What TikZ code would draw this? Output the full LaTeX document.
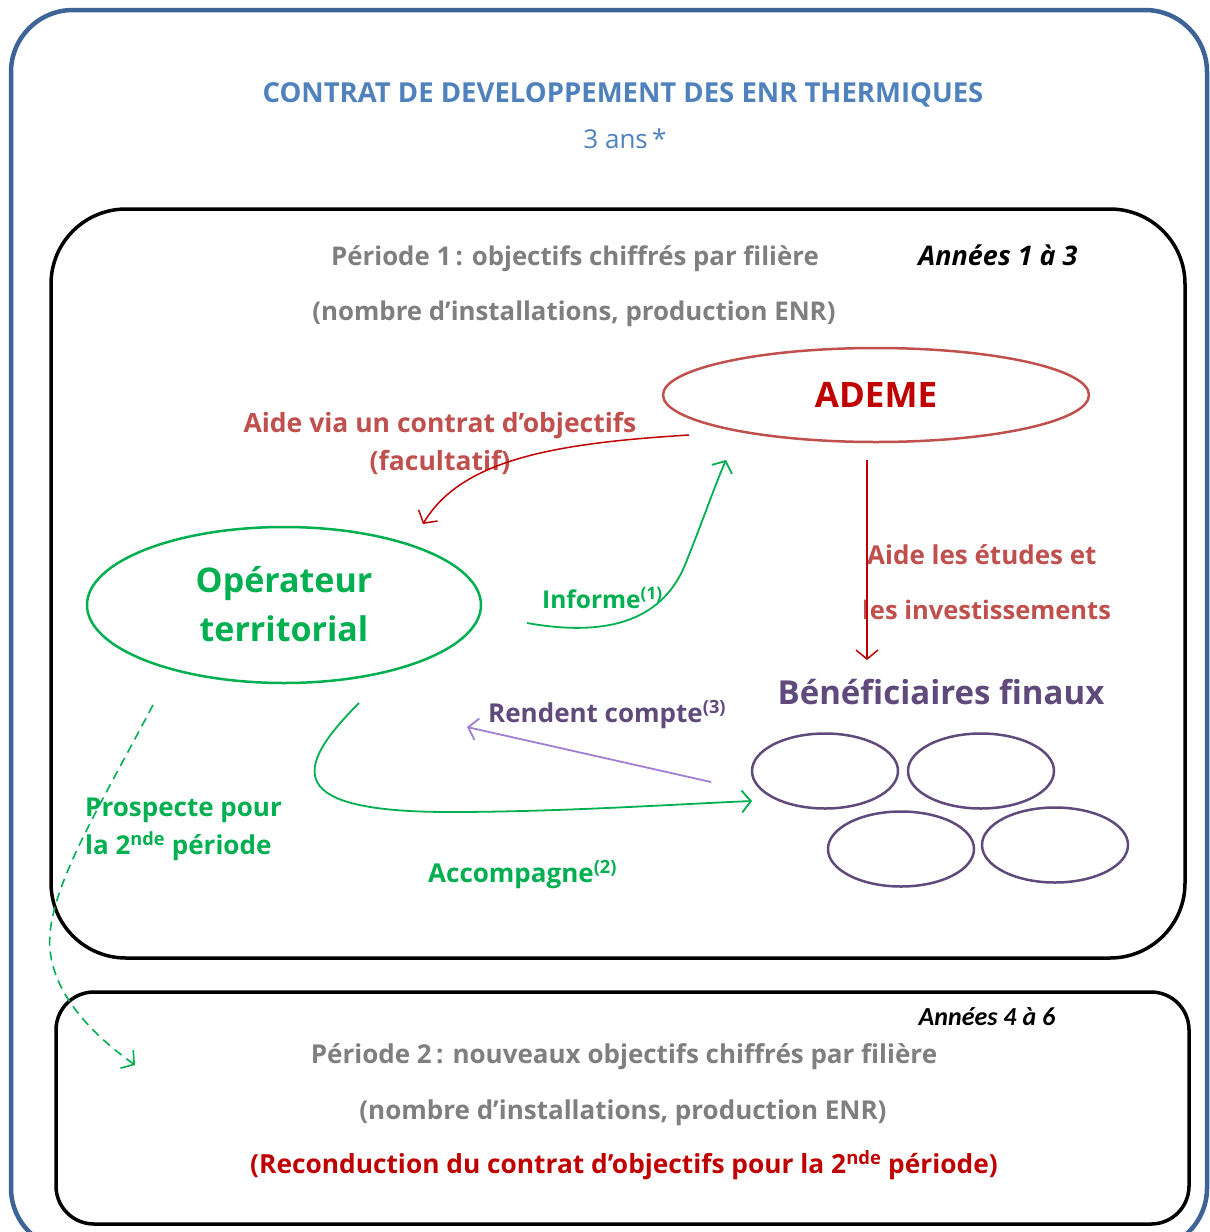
\documentclass[tikz,border=0pt]{standalone}
\usepackage{fontspec}
\setmainfont{Open Sans}
\newfontfamily\calib{Carlito}
\usetikzlibrary{arrows.meta,shapes.geometric}
\definecolor{frameblue}{HTML}{3E6396}
\definecolor{titleblue}{HTML}{4F81BD}
\definecolor{greytxt}{HTML}{7F7F7F}
\definecolor{redlight}{HTML}{C0504D}
\definecolor{reddark}{HTML}{C00000}
\definecolor{greenop}{HTML}{00B050}
\definecolor{purpletxt}{HTML}{604A7B}
\definecolor{lavender}{HTML}{A17FD5}
\begin{document}
\begin{tikzpicture}[x=1pt,y=-1pt,
  lbl/.style={inner sep=0pt, text height=0.7em, text depth=0.2em, yshift=-7pt},
  sz/.style={font=\fontsize{#1}{#1}\selectfont\bfseries},
  arr/.style={-{Straight Barb[length=9pt,width=22pt]}},
  oval/.style={ellipse, inner sep=0pt},
  framebox/.style={line width=3.5pt, rounded corners=#1}
]
\clip (0,0) rectangle (1210,1232);
\path[use as bounding box] (0,0) rectangle (1210,1232);
\fill[white] (0,0) rectangle (1210,1232);
% outer frame
\draw[frameblue, line width=4.5pt, rounded corners=62pt] (11,10) rectangle (1207,1250);
% period frames
\draw[framebox=75pt] (51,209) rectangle (1185,958);
\draw[framebox=38pt] (56,992) rectangle (1189,1224);

% title
\node[lbl, sz=27.5, text=titleblue] (title) at (623,93) {CONTRAT DE DEVELOPPEMENT DES ENR THERMIQUES};
\node[lbl, font=\fontsize{26}{26}\selectfont, text=titleblue] (duree) at (625,139) {3 ans\,*};

% period 1
\node[lbl, sz=25.8, text=greytxt] (p1a) at (575,256) {Période 1\,: objectifs chiffrés par filière};
\node[lbl, sz=25.8, text=greytxt] (p1b) at (574,311) {(nombre d’installations, production ENR)};
\node[lbl, font=\fontsize{27}{27}\selectfont\bfseries\itshape] (an1) at (998,256) {Années 1 à 3};

% ADEME
\node[oval, draw=redlight, line width=2.5pt, minimum width=426pt, minimum height=94pt,
      sz=35, text=reddark] (ademe) at (876,395) {ADEME};
\node[lbl, sz=26.5, text=redlight] (aide1) at (440,423) {Aide via un contrat d’objectifs};
\node[lbl, sz=26.5, text=redlight] (aide2) at (440,461) {(facultatif)};

% Operateur
\node[oval, draw=greenop, line width=2.5pt, minimum width=394pt, minimum height=156pt] (oper) at (284,605) {};
\node[lbl, sz=34, text=greenop] (oper1) at (284,583) {Opérateur};
\node[lbl, sz=34, text=greenop] (oper2) at (284,632) {territorial};

\node[lbl, sz=24.5, text=greenop, anchor=west] (inf) at (542,599) {Informe\textsuperscript{(1)}};

% aide etudes
\node[lbl, sz=26, text=redlight, anchor=west] (et1) at (867,555) {Aide les études et};
\node[lbl, sz=25.5, text=redlight, anchor=west] (et2) at (862,610) {les investissements};

% beneficiaires
\node[lbl, sz=33, text=purpletxt] (benef) at (941,695) {Bénéficiaires finaux};
\node[oval, draw=purpletxt, line width=2.5pt, minimum width=146pt, minimum height=75pt] (b1) at (825,771) {};
\node[oval, draw=purpletxt, line width=2.5pt, minimum width=146pt, minimum height=75pt] (b2) at (981,771) {};
\node[oval, draw=purpletxt, line width=2.5pt, minimum width=146pt, minimum height=75pt] (b3) at (901,849) {};
\node[oval, draw=purpletxt, line width=2.5pt, minimum width=146pt, minimum height=75pt] (b4) at (1055,845) {};

\node[lbl, sz=26, text=purpletxt, anchor=west] (rend) at (488,713) {Rendent compte\textsuperscript{(3)}};
\node[lbl, sz=26, text=greenop, anchor=west] (acc) at (428,873) {Accompagne\textsuperscript{(2)}};
\node[lbl, sz=26, text=greenop, anchor=west] (pros1) at (85,807) {Prospecte pour};
\node[lbl, sz=26, text=greenop, anchor=west] (pros2) at (85,845) {la 2\textsuperscript{nde} période};

% period 2
\node[lbl, font=\fontsize{26}{26}\selectfont\calib\bfseries\itshape] (an2) at (987,1016) {Années 4 à 6};
\node[lbl, sz=26, text=greytxt] (p2a) at (624,1054) {Période 2\,: nouveaux objectifs chiffrés par filière};
\node[lbl, sz=26, text=greytxt] (p2b) at (623,1110) {(nombre d’installations, production ENR)};
\node[lbl, sz=26.3, text=reddark] (p2c) at (624,1164) {(Reconduction du contrat d’objectifs pour la 2\textsuperscript{nde} période)};

% connector end points
\coordinate (redS) at (689,435);
\coordinate (redE) at (423,524);
\coordinate (infS) at (527,623);
\coordinate (infE) at (726,460);
\coordinate (vS) at (867,460);
\coordinate (vE) at (867,660);
\coordinate (accS) at (359,703);
\coordinate (accE) at (752,801);
\coordinate (renS) at (711,782);
\coordinate (renE) at (467,727);
\coordinate (proS) at (153,705);
\coordinate (proE) at (135,1065);

\draw[reddark, line width=1.5pt, arr] (redS) .. controls (560,443) and (462,458) .. (redE);
\draw[greenop, line width=1.8pt, arr] (infS) .. controls (600,636) and (660,625) .. (685,565)
      .. controls (705,515) and (715,485) .. (infE);
\draw[reddark, line width=1.5pt, arr] (vS) -- (vE);
\draw[greenop, line width=1.8pt, arr] (accS) .. controls (292,770) and (285,812) .. (450,812)
      .. controls (560,812) and (680,804) .. (accE);
\draw[lavender, line width=1.8pt, arr] (renS) -- (renE);
\draw[greenop, line width=1.6pt, dash pattern=on 9pt off 6pt, arr] (proS) .. controls (95,815) and (45,895) .. (50,950)
      .. controls (55,1000) and (100,1040) .. (proE);
\end{tikzpicture}
\end{document}
